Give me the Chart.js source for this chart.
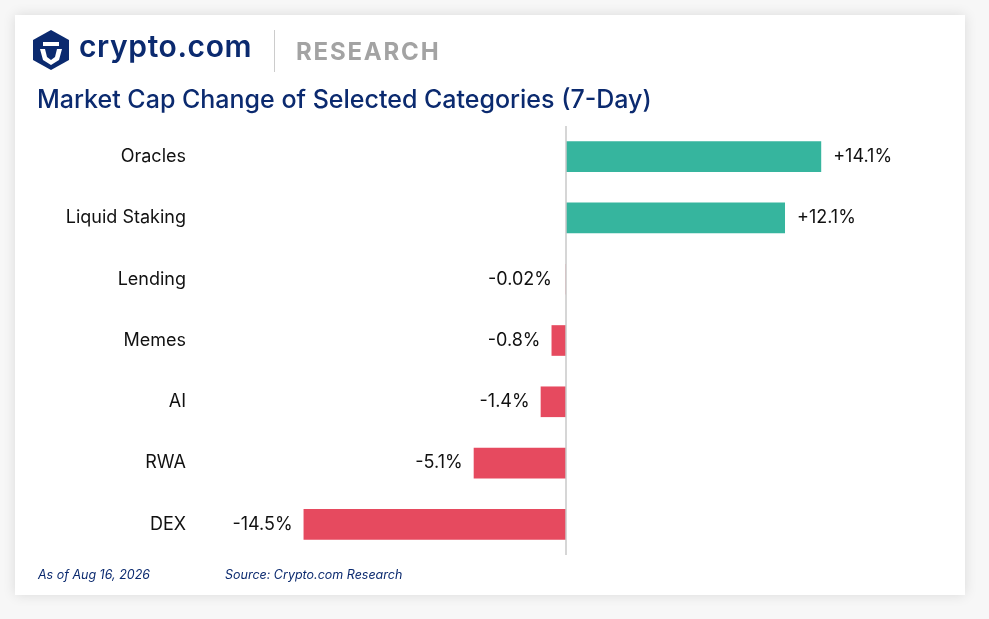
<!DOCTYPE html>
<html><head><meta charset="utf-8">
<script src="https://cdn.jsdelivr.net/npm/chart.js@4"></script>
<style>
body{margin:0;background:#f7f7f7;width:989px;height:619px;position:relative;font-family:Inter,"Noto Sans",sans-serif;overflow:hidden}
#card{position:absolute;left:15px;top:15px;width:950px;height:580px;background:#fff;box-shadow:0 0 12px rgba(0,0,0,0.12)}
#cv{position:absolute;left:0;top:0}
.logo{position:absolute;left:16px;top:14px}
.brand{position:absolute;left:64px;top:13px;font-size:30px;font-weight:600;color:#0b2a6f;letter-spacing:0.6px}
.sep{position:absolute;left:259px;top:15px;width:1px;height:42px;background:#ccc}
.res{position:absolute;left:281px;top:22px;font-size:24px;font-weight:700;color:#a3a3a3;letter-spacing:1.8px}
.title{position:absolute;left:22px;top:69px;font-size:25px;color:#0b2a6f;font-weight:500}
.foot{position:absolute;top:552px;font-size:12.5px;font-style:italic;color:#0b2a6f}
</style></head><body>
<div id="card">
<canvas id="cv" width="950" height="580"></canvas>
<svg class="logo" width="40" height="42" viewBox="0 0 40 42">
<polygon points="20,1 38,11 38,31 20,41 2,31 2,11" fill="#0b2a6f"/>
<path d="M12,13 H28 V17 H12 Z" fill="#fff"/>
<path d="M9,20 L14,20 L16,28 L20,31 L24,28 L26,20 L31,20 L28,31 L20,36 L12,31 Z" fill="#fff"/>
</svg>
<div class="brand">crypto.com</div>
<div class="sep"></div>
<div class="res">RESEARCH</div>
<div class="title">Market Cap Change of Selected Categories (7-Day)</div>
<div class="foot" style="left:23px">As of Aug 16, 2026</div>
<div class="foot" style="left:210px">Source: Crypto.com Research</div>
</div>
<script>
const categories=["Oracles","Liquid Staking","Lending","Memes","AI","RWA","DEX"];
const values=[14.1,12.1,-0.02,-0.8,-1.4,-5.1,-14.5];
const valueLabels=["+14.1%","+12.1%","-0.02%","-0.8%","-1.4%","-5.1%","-14.5%"];
const FONT='Inter, "Noto Sans", sans-serif';
const deco={id:'deco',afterDatasetsDraw(c){
 const ctx=c.ctx,x=c.scales.x,y=c.scales.y,z=x.getPixelForValue(0);
 ctx.save();
 ctx.strokeStyle='#c8c8c8';ctx.lineWidth=1.5;
 ctx.beginPath();ctx.moveTo(z,c.chartArea.top);ctx.lineTo(z,c.chartArea.bottom);ctx.stroke();
 ctx.font='18px '+FONT;ctx.fillStyle='#111';ctx.textBaseline='middle';
 categories.forEach((cat,i)=>{
  const py=y.getPixelForValue(i);
  ctx.textAlign='right';ctx.fillText(cat,171,py);
  const px=x.getPixelForValue(values[i]);
  if(values[i]>=0){ctx.textAlign='left';ctx.fillText(valueLabels[i],px+12,py);}
  else{ctx.textAlign='right';ctx.fillText(valueLabels[i],Math.min(px,z-3)-11,py);}
 });
 ctx.restore();
}};
new Chart(document.getElementById('cv'),{
 type:'bar',
 data:{labels:categories,datasets:[{data:values,
  backgroundColor:values.map(v=>v>=0?'#36b59e':'#e64a5f'),
  barPercentage:0.5,categoryPercentage:1}]},
 options:{indexAxis:'y',responsive:false,animation:false,
  layout:{padding:{left:189,right:37,top:111,bottom:40}},
  plugins:{legend:{display:false},tooltip:{enabled:false}},
  scales:{x:{min:-20,max:20,display:false},y:{display:false}}},
 plugins:[deco]
});
</script>
</body></html>
